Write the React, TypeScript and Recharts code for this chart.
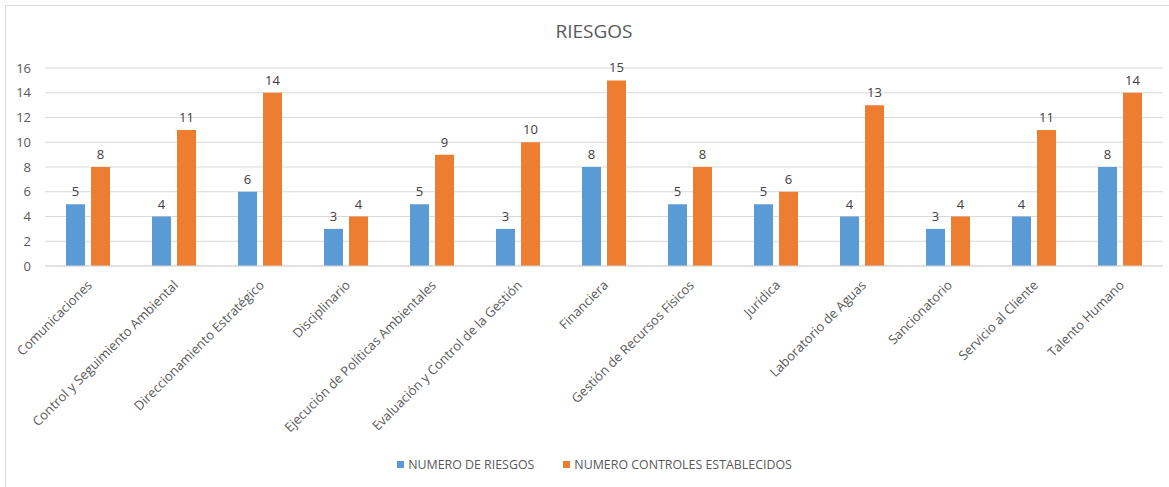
import { BarChart, Bar, XAxis, YAxis, CartesianGrid, LabelList } from 'recharts';

const categories = [
  'Comunicaciones',
  'Control y Seguimiento Ambiental',
  'Direccionamiento Estratégico',
  'Disciplinario',
  'Ejecución de Políticas Ambientales',
  'Evaluación y Control de la Gestión',
  'Financiera',
  'Gestión de Recursos Físicos',
  'Jurídica',
  'Laboratorio de Aguas',
  'Sancionatorio',
  'Servicio al Cliente',
  'Talento Humano',
];
const numeroRiesgos = [5, 4, 6, 3, 5, 3, 8, 5, 5, 4, 3, 4, 8];
const numeroControles = [8, 11, 14, 4, 9, 10, 15, 8, 6, 13, 4, 11, 14];
const yTicks = [0, 2, 4, 6, 8, 10, 12, 14, 16];

const BLUE = '#5B9BD5';
const ORANGE = '#ED7D31';
const TEXT = '#595959';
const GRID = '#D9D9D9';
const FONT = '"Open Sans", sans-serif';

const data = categories.map((name, i) => ({
  name,
  riesgos: numeroRiesgos[i],
  controles: numeroControles[i],
}));

// rotated category labels, end of text sits just under the axis
const CategoryTick = ({ x, y, payload }: any) => (
  <g transform={`translate(${x + 5},${y + 12})`}>
    <text
      textAnchor="end"
      transform="rotate(-45)"
      fill={TEXT}
      fontSize={13}
      fontFamily={FONT}
    >
      {payload.value}
    </text>
  </g>
);

export default function App() {
  return (
    <div style={{ position: 'fixed', left: 0, top: 0, width: 1169, height: 487, background: '#fff' }}>
      <div
        style={{
          position: 'absolute', left: 5, top: 5, width: 1164, height: 482,
          borderTop: `1px solid ${GRID}`, borderLeft: `1px solid ${GRID}`,
        }}
      />
      <div
        style={{
          position: 'absolute', left: 0, top: 18, width: 1188, textAlign: 'center',
          fontFamily: FONT, fontSize: 19, color: TEXT,
        }}
      >
        RIESGOS
      </div>
      <BarChart
        width={1169}
        height={487}
        data={data}
        margin={{ top: 68, right: 6, left: 5, bottom: 0 }}
        barGap={6}
        barSize={19}
      >
        <CartesianGrid vertical={false} stroke={GRID} />
        <XAxis
          dataKey="name"
          interval={0}
          height={221}
          tickLine={false}
          axisLine={{ stroke: GRID }}
          tick={<CategoryTick />}
        />
        <YAxis
          width={40}
          domain={[0, 16]}
          ticks={yTicks}
          interval={0}
          tickLine={false}
          axisLine={false}
          tick={{ fill: TEXT, fontSize: 13, fontFamily: FONT, dx: -6 }}
        />
        <Bar dataKey="riesgos" fill={BLUE} isAnimationActive={false}>
          <LabelList dataKey="riesgos" position="top" offset={8} fill="#404040" fontSize={13} fontFamily={FONT} />
        </Bar>
        <Bar dataKey="controles" fill={ORANGE} isAnimationActive={false}>
          <LabelList dataKey="controles" position="top" offset={8} fill="#404040" fontSize={13} fontFamily={FONT} />
        </Bar>
      </BarChart>
      <div
        style={{
          position: 'absolute', left: 0, top: 456, width: 1169, display: 'flex',
          justifyContent: 'center', gap: 29, fontFamily: FONT, fontSize: 12.4, color: TEXT,
          paddingLeft: 20, boxSizing: 'border-box',
        }}
      >
        <span style={{ display: 'flex', alignItems: 'center' }}>
          <span style={{ width: 7, height: 7, background: BLUE, marginRight: 4 }} />
          NUMERO DE RIESGOS
        </span>
        <span style={{ display: 'flex', alignItems: 'center' }}>
          <span style={{ width: 7, height: 7, background: ORANGE, marginRight: 4 }} />
          NUMERO CONTROLES ESTABLECIDOS
        </span>
      </div>
    </div>
  );
}
